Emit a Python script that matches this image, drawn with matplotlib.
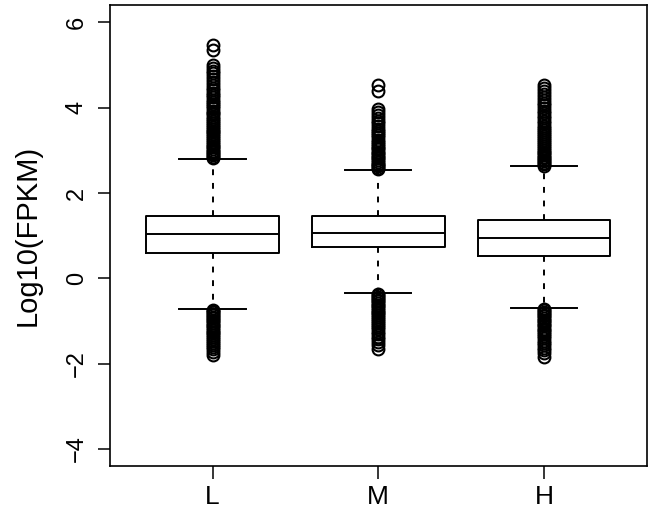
import matplotlib
matplotlib.use("Agg")
import matplotlib.pyplot as plt

plt.rcParams['font.family'] = ['Liberation Sans', 'DejaVu Sans']

groups = ['L', 'M', 'H']
whislo = [-0.72, -0.35, -0.70]
q1 = [0.584, 0.724, 0.530]
med = [1.028, 1.061, 0.951]
q3 = [1.465, 1.450, 1.366]
whishi = [2.80, 2.53, 2.62]

# outliers (dense columns of circles)
L_out = [2.82, 2.85, 2.88, 2.92, 2.95, 2.99, 3.03, 3.07, 3.11, 3.15, 3.19, 3.24,
         3.28, 3.33, 3.37, 3.42, 3.46, 3.51, 3.55, 3.60, 3.65, 3.69, 3.74, 3.79,
         3.84, 3.88, 3.93, 3.98, 4.03, 4.08, 4.13, 4.18, 4.24, 4.29, 4.35, 4.41,
         4.47, 4.53, 4.60, 4.66, 4.73, 4.80, 4.86, 4.93, 5.00, 5.34, 5.46,
         -0.74, -0.77, -0.80, -0.83, -0.87, -0.90, -0.94, -0.97, -1.01, -1.05,
         -1.09, -1.13, -1.17, -1.21, -1.25, -1.29, -1.33, -1.37, -1.42, -1.46,
         -1.51, -1.56, -1.61, -1.66, -1.72, -1.81]
M_out = [2.56, 2.59, 2.62, 2.66, 2.69, 2.73, 2.77, 2.81, 2.85, 2.89, 2.93, 2.97,
         3.02, 3.06, 3.11, 3.15, 3.20, 3.25, 3.30, 3.35, 3.40, 3.45, 3.51, 3.57,
         3.63, 3.69, 3.76, 3.83, 3.90, 3.96, 4.39, 4.54,
         -0.37, -0.40, -0.43, -0.47, -0.50, -0.54, -0.58, -0.62, -0.66, -0.70,
         -0.74, -0.78, -0.82, -0.87, -0.91, -0.96, -1.00, -1.05, -1.10, -1.15,
         -1.20, -1.25, -1.31, -1.37, -1.43, -1.50, -1.57, -1.66]
H_out = [2.64, 2.67, 2.70, 2.74, 2.77, 2.81, 2.85, 2.89, 2.93, 2.97, 3.01, 3.05,
         3.10, 3.14, 3.19, 3.23, 3.28, 3.33, 3.38, 3.43, 3.48, 3.53, 3.58, 3.64,
         3.69, 3.75, 3.81, 3.87, 3.93, 3.99, 4.05, 4.11, 4.18, 4.24, 4.31, 4.38,
         4.45, 4.52,
         -0.72, -0.75, -0.78, -0.82, -0.85, -0.89, -0.93, -0.97, -1.01, -1.05,
         -1.09, -1.13, -1.18, -1.22, -1.27, -1.31, -1.36, -1.41, -1.46, -1.51,
         -1.57, -1.63, -1.69, -1.76, -1.85]
outliers = [L_out, M_out, H_out]

stats = []
for i in range(3):
    stats.append(dict(label=groups[i], whislo=whislo[i], q1=q1[i], med=med[i],
                      q3=q3[i], whishi=whishi[i], fliers=outliers[i]))

fig = plt.figure(figsize=(6.5, 5.23), dpi=100)
ax = fig.add_axes([0.169, 0.109, 0.826, 0.881])

lw = 1.4
ax.bxp(stats, positions=[1, 2, 3], widths=0.8, capwidths=0.4,
       boxprops=dict(color='black', linewidth=lw),
       medianprops=dict(color='black', linewidth=lw),
       whiskerprops=dict(color='black', linewidth=lw, linestyle=(0, (3, 4))),
       capprops=dict(color='black', linewidth=lw),
       flierprops=dict(marker='o', markerfacecolor='none', markeredgecolor='black',
                       markersize=8.5, markeredgewidth=1.5))

ax.set_xlim(0.38, 3.62)
ax.set_ylim(-4.4, 6.4)
ax.set_yticks([-4, -2, 0, 2, 4, 6])
ax.set_yticklabels(['\u22124', '\u22122', '0', '2', '4', '6'], rotation=90, va='center')
ax.set_xticks([1, 2, 3])
ax.set_xticklabels(groups)
ax.tick_params(axis='y', length=9, width=1.1, labelsize=17, pad=7)
ax.tick_params(axis='x', length=9, width=1.1, labelsize=19, pad=5)
for s in ax.spines.values():
    s.set_linewidth(1.2)
ax.set_ylabel('Log10(FPKM)', fontsize=21, labelpad=17)

fig.savefig('out.png', dpi=100)
